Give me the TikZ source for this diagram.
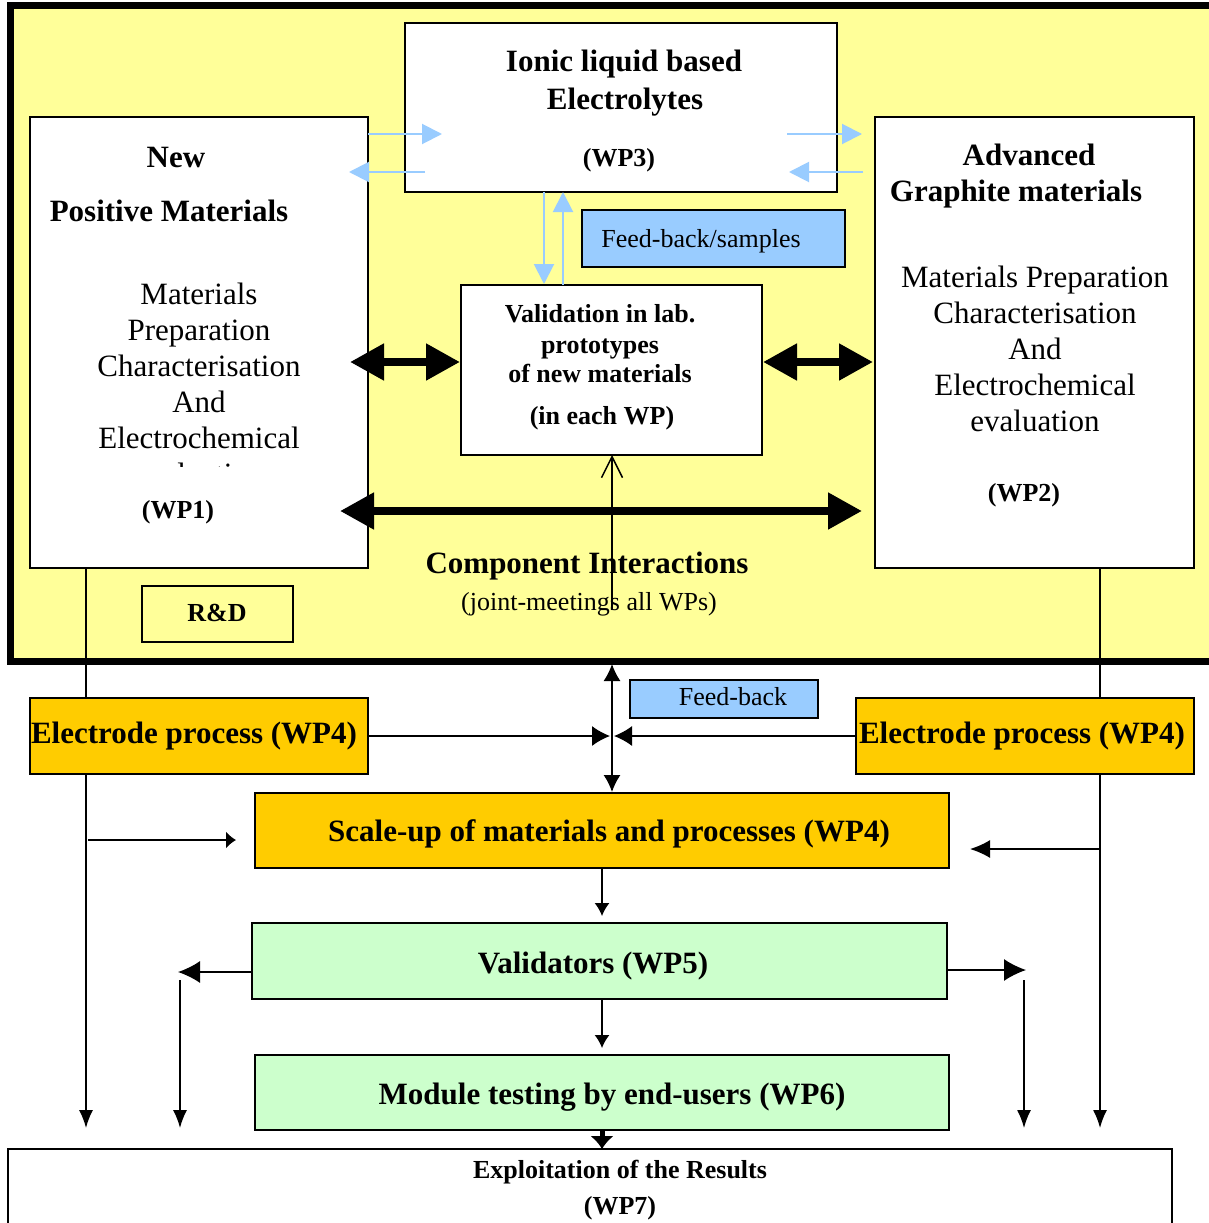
\documentclass[tikz,border=0pt]{standalone}
\usepackage{fontspec}
\setmainfont{Liberation Serif}
\usetikzlibrary{arrows.meta}
\definecolor{bgyellow}{HTML}{FFFF99}
\definecolor{lblue}{HTML}{99CCFF}
\definecolor{gold}{HTML}{FFCC00}
\definecolor{lgreen}{HTML}{CCFFCC}
\begin{document}
\begin{tikzpicture}[x=1pt,y=-1pt,
  box/.style={draw=black, line width=2pt, inner sep=0pt, outer sep=0pt, anchor=north west},
  bigb/.style={font=\fontsize{31}{36}\selectfont\bfseries, anchor=base, inner sep=0pt},
  smb/.style={font=\fontsize{26}{30}\selectfont\bfseries, anchor=base, inner sep=0pt},
  reg/.style={font=\fontsize{31}{36}\selectfont, anchor=base, inner sep=0pt},
  smr/.style={font=\fontsize{26}{30}\selectfont, anchor=base, inner sep=0pt},
  thin/.style={line width=1.5pt, -{Latex[length=18pt,width=14pt]}},
  blu/.style={draw=lblue, line width=2pt, -{Triangle[length=20pt,width=20pt]}, lblue},
  fat/.style={line width=8pt, {Triangle[length=34pt,width=35pt]}-{Triangle[length=34pt,width=35pt]}}
]
\useasboundingbox (0,0) rectangle (1209,1223);
\fill[white] (0,0) rectangle (1209,1223);
% big yellow frame
\node[box, draw=none, fill=bgyellow, minimum width=1210, minimum height=655] (frame) at (10,6) {};
\begin{scope}
\clip (0,0) rectangle (1209,1223);
\draw[line width=7pt] (1230,6) -- (10,6) -- (10,661) -- (1230,661);
\end{scope}

% vertical side lines (behind boxes)
\coordinate (Ltop) at (86,568);
\coordinate (Lbot) at (86,1128);
\coordinate (Rtop) at (1100,568);
\coordinate (Rbot) at (1100,1128);
\draw[thin] (Ltop) -- (Lbot);
\draw[thin] (Rtop) -- (Rbot);

% top boxes
\node[box, fill=white, minimum width=432, minimum height=169] (wp3) at (405,23) {};
\node[box, fill=white, minimum width=338, minimum height=451] (wp1) at (30,117) {};
\node[box, fill=white, minimum width=319, minimum height=451] (wp2) at (875,117) {};
\node[box, fill=lblue, minimum width=263, minimum height=57] (fbs) at (582,210) {};
\node[box, fill=white, minimum width=301, minimum height=170] (val) at (461,285) {};
\node[box, minimum width=151, minimum height=56] (rd) at (142,586) {};

% WP3 text
\node[bigb] (t3a) at (624,71) {Ionic liquid based};
\node[bigb] (t3b) at (625,109) {Electrolytes};
\node[smb] (t3c) at (619,166) {(WP3)};
% WP1 text
\node[bigb] (t1a) at (176,167) {New};
\node[bigb] (t1b) at (169,221) {Positive Materials};
\node[reg] (t1c) at (199,304) {Materials};
\node[reg] (t1d) at (199,340) {Preparation};
\node[reg] (t1e) at (199,376) {Characterisation};
\node[reg] (t1f) at (199,412) {And};
\node[reg] (t1g) at (199,448) {Electrochemical};
\begin{scope}
\clip (32,452) rectangle (366,466);
\node[reg] (t1h) at (199,484) {evaluation};
\end{scope}
\node[smb] (t1i) at (178,518) {(WP1)};
% WP2 text
\node[bigb] (t2a) at (1029,165) {Advanced};
\node[bigb] (t2b) at (1016,201) {Graphite materials};
\node[reg] (t2c) at (1035,287) {Materials Preparation};
\node[reg] (t2d) at (1035,323) {Characterisation};
\node[reg] (t2e) at (1035,359) {And};
\node[reg] (t2f) at (1035,395) {Electrochemical};
\node[reg] (t2g) at (1035,431) {evaluation};
\node[smb] (t2h) at (1024,501) {(WP2)};
% feedback/samples
\node[smr] (tfs) at (701,247) {Feed-back/samples};
% validation text
\node[smb] (tva) at (600,322) {Validation in lab.};
\node[smb] (tvb) at (600,353) {prototypes};
\node[smb] (tvc) at (600,382) {of new materials};
\node[smb] (tvd) at (602,424) {(in each WP)};
% component interactions
\node[bigb] (tci) at (587,573) {Component Interactions};
\node[smr] (tcj) at (589,610) {(joint-meetings all WPs)};
\node[smb] (trd) at (217,621) {R\&D};

% light blue arrows
\coordinate (b1s) at (368,134); \coordinate (b1e) at (442,134);
\coordinate (b2s) at (425,172); \coordinate (b2e) at (349,172);
\coordinate (b3s) at (787,134); \coordinate (b3e) at (862,134);
\coordinate (b4s) at (863,172); \coordinate (b4e) at (789,172);
\coordinate (b5s) at (544,192); \coordinate (b5e) at (544,284);
\coordinate (b6s) at (563,285); \coordinate (b6e) at (563,192);
\draw[blu] (b1s) -- (b1e);
\draw[blu] (b2s) -- (b2e);
\draw[blu] (b3s) -- (b3e);
\draw[blu] (b4s) -- (b4e);
\draw[blu] (b5s) -- (b5e);
\draw[blu] (b6s) -- (b6e);

% thick double arrows
\coordinate (f1a) at (350,362); \coordinate (f1b) at (460,362);
\coordinate (f2a) at (763,362); \coordinate (f2b) at (873,362);
\coordinate (f3a) at (340,511); \coordinate (f3b) at (862,511);
\draw[fat] (f1a) -- (f1b);
\draw[fat] (f2a) -- (f2b);
\draw[fat] (f3a) -- (f3b);

% open arrow to validation
\coordinate (oa) at (612,610);
\draw[line width=1.5pt, -{Straight Barb[length=21pt,width=21pt]}] (oa) -- (val.south -| oa);

% lower part
\node[box, fill=gold, minimum width=338, minimum height=76] (ep1) at (30,698) {};
\node[box, fill=gold, minimum width=338, minimum height=76] (ep2) at (856,698) {};
\node[box, fill=lblue, minimum width=188, minimum height=38] (fb) at (630,680) {};
\node[box, fill=gold, minimum width=694, minimum height=75] (su) at (255,793) {};
\node[box, fill=lgreen, minimum width=695, minimum height=76] (v5) at (252,923) {};
\node[box, fill=lgreen, minimum width=694, minimum height=75] (m6) at (255,1055) {};
\node[box, fill=white, minimum width=1164, minimum height=90] (e7) at (8,1149) {};

\node[bigb] (te1) at (194,743) {Electrode process (WP4)};
\node[bigb] (te2) at (1022,743) {Electrode process (WP4)};
\node[smr] (tfb) at (733,705) {Feed-back};
\node[bigb] (tsu) at (609,841) {Scale-up of materials and processes (WP4)};
\node[bigb] (tv5) at (593,973) {Validators (WP5)};
\node[bigb] (tm6) at (612,1104) {Module testing by end-users (WP6)};
\node[smb] (te7) at (620,1178) {Exploitation of the Results};
\node[smb] (te8) at (620,1214) {(WP7)};

% connectors
\coordinate (c0) at (612,736);
\draw[line width=1.5pt, -{Latex[length=18pt,width=20pt]}] (ep1.east |- c0) -- ([xshift=-2pt]c0);
\draw[line width=1.5pt, -{Latex[length=18pt,width=20pt]}] (ep2.west |- c0) -- ([xshift=2pt]c0);
\draw[line width=1.5pt, {Latex[length=17pt,width=17pt]}-{Latex[length=17pt,width=17pt]}] (612,664) coordinate (dv1) -- (612,792) coordinate (dv2);

\coordinate (a1s) at (88,840); \coordinate (a1e) at (236,840);
\draw[line width=1.5pt, -{Latex[length=10pt,width=17pt]}] (a1s) -- (a1e);
\coordinate (a2s) at (1100,849); \coordinate (a2e) at (970,849);
\draw[line width=1.5pt, -{Latex[length=20pt,width=18pt]}] (a2s) -- (a2e);
\coordinate (sx) at (602,0);
\draw[line width=1.5pt, -{Latex[length=13pt,width=15pt]}] (su.south -| sx) -- ([yshift=7pt]v5.north -| sx);
\draw[line width=1.5pt, -{Latex[length=13pt,width=15pt]}] (v5.south -| sx) -- ([yshift=7pt]m6.north -| sx);
\draw[line width=5pt, -{Latex[length=13pt,width=24pt]}] (m6.south -| sx) -- (e7.north -| sx);

\coordinate (vl) at (178,972); \coordinate (vl2) at (180,980); \coordinate (vl3) at (180,1128);
\draw[line width=1.5pt, -{Latex[length=22pt,width=22pt]}] (v5.west |- vl) -- (vl);
\draw[thin] (vl2) -- (vl3);
\coordinate (vr) at (1026,970); \coordinate (vr2) at (1024,980); \coordinate (vr3) at (1024,1128);
\draw[line width=1.5pt, -{Latex[length=22pt,width=22pt]}] (v5.east |- vr) -- (vr);
\draw[thin] (vr2) -- (vr3);
\end{tikzpicture}
\end{document}
